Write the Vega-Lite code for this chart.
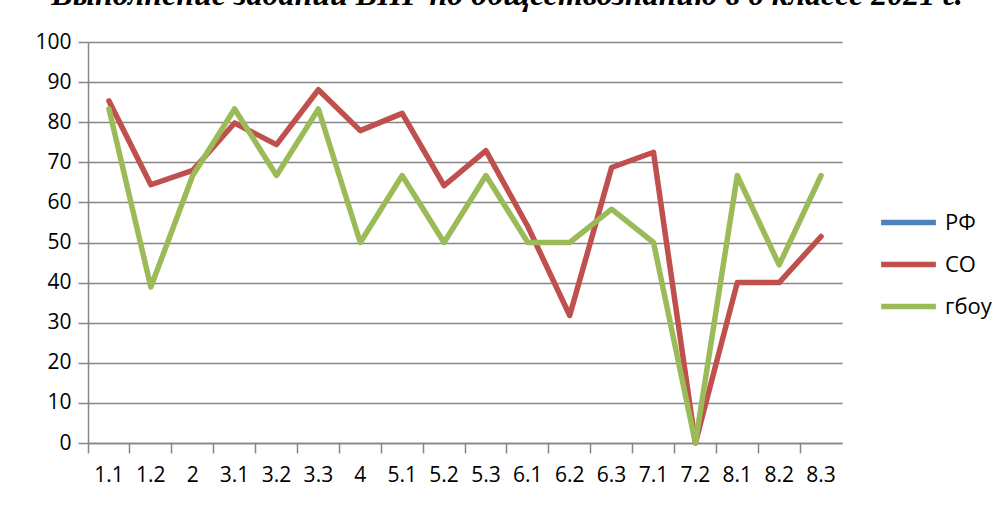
{
  "$schema": "https://vega.github.io/schema/vega-lite/v6.json",
  "width": 754,
  "height": 401,
  "autosize": "none",
  "padding": {"left": 88, "top": 42, "right": 161, "bottom": 63},
  "background": "white",
  "title": {
    "text": "Выполнение заданий ВПР по обществознанию в 6 классе 2021 г.",
    "font": "Liberation Serif",
    "fontSize": 32,
    "fontWeight": "bold",
    "fontStyle": "italic",
    "color": "#000000",
    "anchor": "middle",
    "baseline": "bottom",
    "offset": -13,
    "dx": 42
  },
  "data": {
    "values": [
      {"task": "1.1", "series": "СО", "value": 85.3},
      {"task": "1.2", "series": "СО", "value": 64.4},
      {"task": "2", "series": "СО", "value": 68},
      {"task": "3.1", "series": "СО", "value": 79.8},
      {"task": "3.2", "series": "СО", "value": 74.4},
      {"task": "3.3", "series": "СО", "value": 88.1},
      {"task": "4", "series": "СО", "value": 77.9},
      {"task": "5.1", "series": "СО", "value": 82.2},
      {"task": "5.2", "series": "СО", "value": 64.2},
      {"task": "5.3", "series": "СО", "value": 72.9},
      {"task": "6.1", "series": "СО", "value": 54},
      {"task": "6.2", "series": "СО", "value": 31.8},
      {"task": "6.3", "series": "СО", "value": 68.7},
      {"task": "7.1", "series": "СО", "value": 72.5},
      {"task": "7.2", "series": "СО", "value": 0},
      {"task": "8.1", "series": "СО", "value": 40},
      {"task": "8.2", "series": "СО", "value": 40},
      {"task": "8.3", "series": "СО", "value": 51.5},
      {"task": "1.1", "series": "гбоу", "value": 83.3},
      {"task": "1.2", "series": "гбоу", "value": 38.9},
      {"task": "2", "series": "гбоу", "value": 66.7},
      {"task": "3.1", "series": "гбоу", "value": 83.3},
      {"task": "3.2", "series": "гбоу", "value": 66.7},
      {"task": "3.3", "series": "гбоу", "value": 83.3},
      {"task": "4", "series": "гбоу", "value": 50},
      {"task": "5.1", "series": "гбоу", "value": 66.7},
      {"task": "5.2", "series": "гбоу", "value": 50},
      {"task": "5.3", "series": "гбоу", "value": 66.7},
      {"task": "6.1", "series": "гбоу", "value": 50},
      {"task": "6.2", "series": "гбоу", "value": 50},
      {"task": "6.3", "series": "гбоу", "value": 58.3},
      {"task": "7.1", "series": "гбоу", "value": 50},
      {"task": "7.2", "series": "гбоу", "value": 0},
      {"task": "8.1", "series": "гбоу", "value": 66.7},
      {"task": "8.2", "series": "гбоу", "value": 44.4},
      {"task": "8.3", "series": "гбоу", "value": 66.7}
    ]
  },
  "mark": {"type": "line", "strokeWidth": 5.5, "strokeJoin": "round", "strokeCap": "round"},
  "encoding": {
    "x": {
      "field": "task",
      "type": "ordinal",
      "sort": null,
      "bandPosition": 0.5,
      "scale": {"type": "band", "paddingInner": 0, "paddingOuter": 0},
      "axis": {
        "title": null,
        "labelAngle": 0,
        "bandPosition": 0,
        "grid": false,
        "domainColor": "#868686",
        "domainWidth": 1.5,
        "tickColor": "#868686",
        "tickWidth": 1.5,
        "tickSize": 10,
        "labelFont": "Open Sans",
        "labelFontSize": 21,
        "labelColor": "#000000",
        "labelPadding": 11
      }
    },
    "y": {
      "field": "value",
      "type": "quantitative",
      "scale": {"domain": [0, 100], "nice": false},
      "axis": {
        "title": null,
        "values": [0, 10, 20, 30, 40, 50, 60, 70, 80, 90, 100],
        "grid": true,
        "gridColor": "#868686",
        "gridWidth": 1.5,
        "domainColor": "#868686",
        "domainWidth": 1.5,
        "tickColor": "#868686",
        "tickWidth": 1.5,
        "tickSize": 10,
        "labelFont": "Open Sans",
        "labelFontSize": 21,
        "labelColor": "#000000",
        "labelPadding": 7
      }
    },
    "color": {
      "field": "series",
      "type": "nominal",
      "scale": {"domain": ["РФ", "СО", "гбоу"], "range": ["#4F81BD", "#C0504D", "#9BBB59"]},
      "legend": {
        "title": null,
        "orient": "none",
        "legendX": 790,
        "legendY": 150,
        "symbolType": "stroke",
        "symbolSize": 3000,
        "symbolStrokeWidth": 5.5,
        "labelFont": "Open Sans",
        "labelFontSize": 22,
        "labelColor": "#000000",
        "labelOffset": 6,
        "rowPadding": -15
      }
    }
  },
  "config": {"view": {"stroke": null}}
}
